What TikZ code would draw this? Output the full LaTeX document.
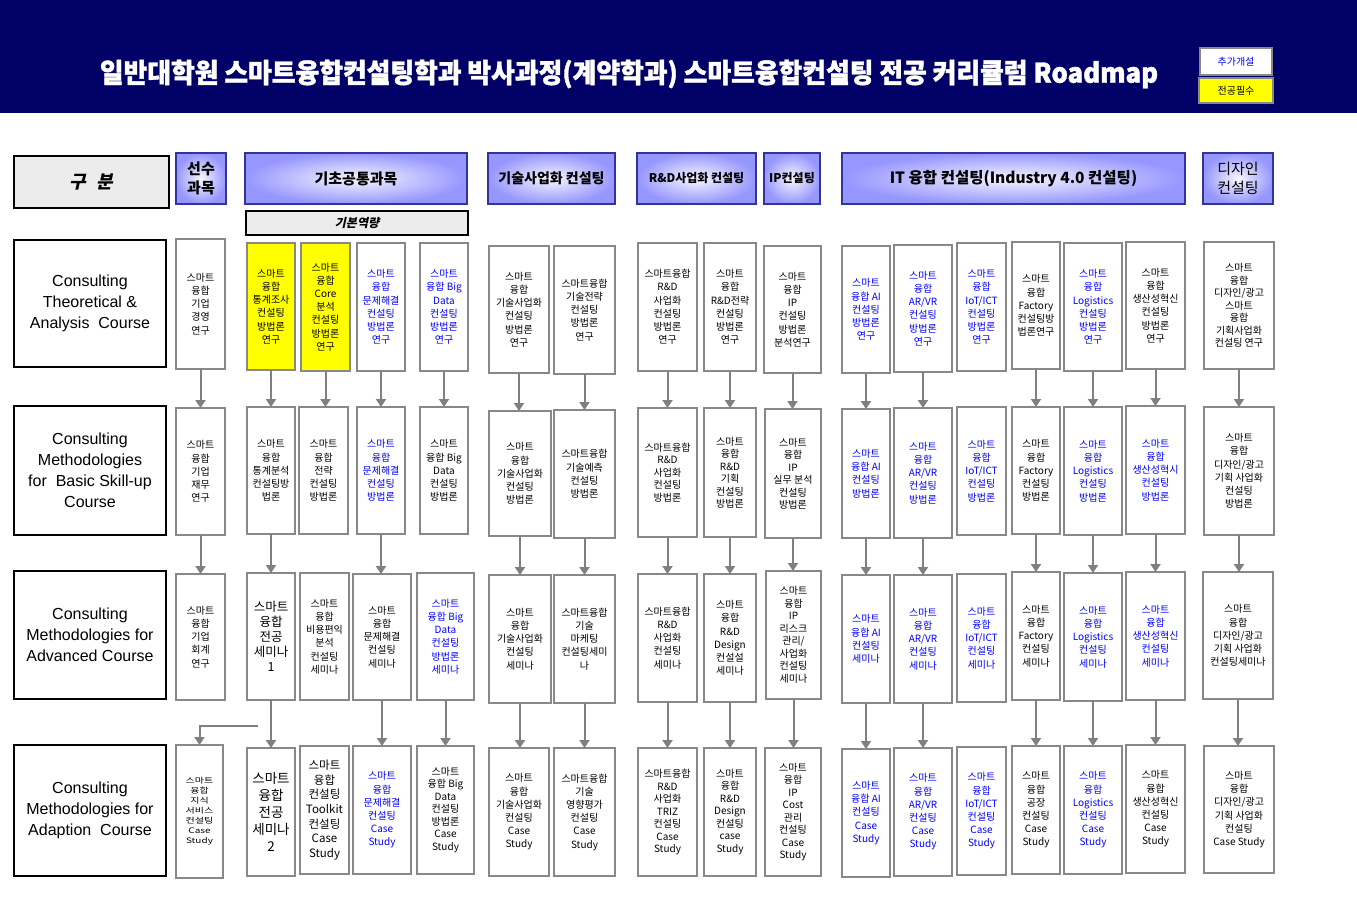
\documentclass[tikz,border=0pt]{standalone}
\usepackage{fontspec}
\usepackage{graphicx}
\setmainfont{Noto Sans CJK KR}
\newfontfamily\lat{Liberation Sans}
\newfontfamily\slantf[FakeSlant=0.22]{Noto Sans CJK KR}
\newfontfamily\titlef[FakeBold=1.4]{Noto Sans CJK KR}
\usetikzlibrary{arrows.meta}
\definecolor{navy}{RGB}{0,0,102}
\definecolor{bgray}{RGB}{136,136,136}
\definecolor{agray}{RGB}{128,128,128}
\definecolor{hdrline}{RGB}{51,51,153}
\definecolor{hdrout}{RGB}{150,150,255}
\definecolor{hdrin}{RGB}{246,246,255}
\definecolor{lgray}{RGB}{236,236,236}
\definecolor{tblue}{RGB}{0,0,255}
\definecolor{yel}{RGB}{255,255,0}
\newcommand\cb[7]{\node[cbox,#6,minimum width={#4-#2},minimum height={#5-#3}] (#1) at ({(#2+#4)/2},{(#3+#5)/2}) {#7};}
\tikzset{
  cbox/.style={draw=bgray, line width=1.1pt, fill=white, align=center, inner sep=0pt, outer sep=0pt, text=black, font=\fontsize{10}{13.2}\selectfont},
  bl/.style={text=tblue},
  yl/.style={fill=yel},
  tight/.style={font=\fontsize{10}{12.5}\selectfont},
  big/.style={font=\fontsize{12.5}{15}\selectfont},
  bigger/.style={font=\fontsize{13.5}{17}\selectfont},
  mid/.style={font=\fontsize{11.5}{14.6}\selectfont},
  plain/.style={},
  hdr/.style={draw=hdrline, line width=1.2pt, inner color=hdrin, outer color=hdrout, align=center, inner sep=0pt, text=black, font=\bfseries\fontsize{15}{19}\selectfont},
  gbox/.style={draw=black, line width=1.3pt, fill=lgray, align=center, inner sep=0pt, font=\slantf\bfseries\fontsize{18}{20}\selectfont},
  lbox/.style={draw=black, line width=1.3pt, fill=white, align=center, inner sep=0pt, font=\lat\fontsize{16}{21}\selectfont},
  arr/.style={draw=agray, line width=2pt, -{Triangle[width=10pt,length=8pt]}},
}
\begin{document}
\begin{tikzpicture}[x=1pt,y=-1pt]
\useasboundingbox (0,0) rectangle (1357,920);
\fill[white] (0,0) rectangle (1357,920);
% banner
\fill[navy] (0,0) rectangle (1357,113);
\node[text=white, inner sep=0pt] (title) at (629,74) {\resizebox{1058pt}{23pt}{\titlef\bfseries 일반대학원 스마트융합컨설팅학과 박사과정(계약학과) 스마트융합컨설팅 전공 커리큘럼 Roadmap}};
\cb{leg1}{1200}{48}{1272}{75}{text=tblue, font=\fontsize{10}{12}\selectfont}{추가개설}
\cb{leg2}{1199}{78}{1273}{103}{yl, font=\fontsize{10}{12}\selectfont}{전공필수}
% headers
\node[gbox, minimum width=155, minimum height=52] (gubun) at (91.5,182) {구\hspace{10pt}분};
\node[hdr, minimum width=50, minimum height=51] (hs) at (201,178.5) {선수\\과목};
\node[hdr, minimum width=222, minimum height=51] (hb) at (356,178.5) {기초공통과목};
\node[gbox, minimum width=222, minimum height=24, font=\slantf\bfseries\fontsize{12}{14}\selectfont] (hbasic) at (357,223) {기본역량};
\node[hdr, minimum width=127, minimum height=51, font=\bfseries\fontsize{14}{17}\selectfont] (hf) at (551.5,178.5) {기술사업화 컨설팅};
\node[hdr, minimum width=119, minimum height=51, font=\bfseries\fontsize{12}{15}\selectfont] (hh) at (696.5,178.5) {R\&D사업화 컨설팅};
\node[hdr, minimum width=56, minimum height=51, font=\bfseries\fontsize{12}{15}\selectfont] (hj) at (792,178.5) {IP컨설팅};
\node[hdr, minimum width=343, minimum height=51, font=\bfseries\fontsize{15.5}{19}\selectfont] (hk) at (1013.5,178.5) {IT 융합 컨설팅(Industry 4.0 컨설팅)};
\node[hdr, minimum width=70, minimum height=51, font=\fontsize{15}{19}\selectfont] (hq) at (1238,178.5) {디자인\\컨설팅};
% row labels
\cb{r1}{14}{240}{166}{367}{lbox}{Consulting\\Theoretical \&\\Analysis\ \ Course}
\cb{r2}{14}{406}{166}{535}{lbox}{Consulting\\Methodologies\\for\ \ Basic Skill-up\\Course}
\cb{r3}{14}{571}{166}{699}{lbox}{Consulting\\Methodologies for\\Advanced Course}
\cb{r4}{14}{745}{166}{876}{lbox}{Consulting\\Methodologies for\\Adaption\ \ Course}
% row 1
\cb{s1}{176}{239}{225}{369}{plain}{스마트\\융합\\기업\\경영\\연구}
\cb{b1}{247}{243}{295}{370}{yl}{스마트\\융합\\통계조사\\컨설팅\\방법론\\연구}
\cb{c1}{301}{243}{350}{371}{yl}{스마트\\융합\\Core\\분석\\컨설팅\\방법론\\연구}
\cb{d1}{357}{243}{405}{371}{bl}{스마트\\융합\\문제해결\\컨설팅\\방법론\\연구}
\cb{e1}{420}{243}{468}{371}{bl}{스마트\\융합 Big\\Data\\컨설팅\\방법론\\연구}
\cb{f1}{489}{246}{549}{373}{plain}{스마트\\융합\\기술사업화\\컨설팅\\방법론\\연구}
\cb{g1}{554}{246}{615}{374}{plain}{스마트융합\\기술전략\\컨설팅\\방법론\\연구}
\cb{h1}{638}{243}{697}{371}{plain}{스마트융합\\R\&D\\사업화\\컨설팅\\방법론\\연구}
\cb{i1}{704}{243}{756}{371}{plain}{스마트\\융합\\R\&D전략\\컨설팅\\방법론\\연구}
\cb{j1}{764}{246}{821}{373}{plain}{스마트\\융합\\IP\\컨설팅\\방법론\\분석연구}
\cb{k1}{842}{246}{890}{373}{bl}{스마트\\융합 AI\\컨설팅\\방법론\\연구}
\cb{l1}{894}{245}{952}{372}{bl}{스마트\\융합\\AR/VR\\컨설팅\\방법론\\연구}
\cb{m1}{957}{243}{1006}{371}{bl}{스마트\\융합\\IoT/ICT\\컨설팅\\방법론\\연구}
\cb{n1}{1012}{242}{1060}{369}{plain}{스마트\\융합\\Factory\\컨설팅방\\법론연구}
\cb{o1}{1064}{243}{1122}{371}{bl}{스마트\\융합\\Logistics\\컨설팅\\방법론\\연구}
\cb{p1}{1126}{242}{1185}{369}{plain}{스마트\\융합\\생산성혁신\\컨설팅\\방법론\\연구}
\cb{q1}{1204}{242}{1274}{369}{tight}{스마트\\융합\\디자인/광고\\스마트\\융합\\기획사업화\\컨설팅 연구}
% row 2
\cb{s2}{176}{408}{225}{535}{plain}{스마트\\융합\\기업\\재무\\연구}
\cb{b2}{247}{407}{295}{534}{plain}{스마트\\융합\\통계분석\\컨설팅방\\법론}
\cb{c2}{299}{407}{348}{534}{plain}{스마트\\융합\\전략\\컨설팅\\방법론}
\cb{d2}{357}{407}{405}{534}{bl}{스마트\\융합\\문제해결\\컨설팅\\방법론}
\cb{e2}{420}{407}{468}{534}{plain}{스마트\\융합 Big\\Data\\컨설팅\\방법론}
\cb{f2}{489}{411}{551}{536}{plain}{스마트\\융합\\기술사업화\\컨설팅\\방법론}
\cb{g2}{554}{410}{615}{538}{plain}{스마트융합\\기술예측\\컨설팅\\방법론}
\cb{h2}{638}{408}{697}{537}{tight}{스마트융합\\R\&D\\사업화\\컨설팅\\방법론}
\cb{i2}{704}{408}{756}{537}{tight}{스마트\\융합\\R\&D\\기획\\컨설팅\\방법론}
\cb{j2}{765}{409}{821}{538}{tight}{스마트\\융합\\IP\\실무 분석\\컨설팅\\방법론}
\cb{k2}{842}{409}{890}{538}{bl}{스마트\\융합 AI\\컨설팅\\방법론}
\cb{l2}{894}{408}{952}{538}{bl}{스마트\\융합\\AR/VR\\컨설팅\\방법론}
\cb{m2}{957}{407}{1006}{535}{bl}{스마트\\융합\\IoT/ICT\\컨설팅\\방법론}
\cb{n2}{1012}{407}{1060}{534}{plain}{스마트\\융합\\Factory\\컨설팅\\방법론}
\cb{o2}{1064}{407}{1122}{535}{bl}{스마트\\융합\\Logistics\\컨설팅\\방법론}
\cb{p2}{1126}{406}{1185}{534}{bl}{스마트\\융합\\생산성혁시\\컨설팅\\방법론}
\cb{q2}{1204}{407}{1274}{535}{plain}{스마트\\융합\\디자인/광고\\기획 사업화\\컨설팅\\방법론}
% row 3
\cb{s3}{176}{574}{225}{700}{plain}{스마트\\융합\\기업\\회계\\연구}
\cb{b3}{247}{573}{295}{700}{big}{스마트\\융합\\전공\\세미나\\1}
\cb{c3}{300}{573}{349}{700}{plain}{스마트\\융합\\비용편익\\분석\\컨설팅\\세미나}
\cb{d3}{353}{574}{411}{700}{plain}{스마트\\융합\\문제해결\\컨설팅\\세미나}
\cb{e3}{417}{573}{474}{700}{bl}{스마트\\융합 Big\\Data\\컨설팅\\방법론\\세미나}
\cb{f3}{489}{575}{551}{703}{plain}{스마트\\융합\\기술사업화\\컨설팅\\세미나}
\cb{g3}{554}{575}{615}{703}{plain}{스마트융합\\기술\\마케팅\\컨설팅세미\\나}
\cb{h3}{638}{574}{697}{702}{plain}{스마트융합\\R\&D\\사업화\\컨설팅\\세미나}
\cb{i3}{704}{574}{756}{702}{plain}{스마트\\융합\\R\&D\\Design\\컨설설\\세미나}
\cb{j3}{766}{571}{821}{699}{tight}{스마트\\융합\\IP\\리스크\\관리/\\사업화\\컨설팅\\세미나}
\cb{k3}{842}{575}{890}{703}{bl}{스마트\\융합 AI\\컨설팅\\세미나}
\cb{l3}{894}{575}{952}{703}{bl}{스마트\\융합\\AR/VR\\컨설팅\\세미나}
\cb{m3}{957}{574}{1006}{702}{bl}{스마트\\융합\\IoT/ICT\\컨설팅\\세미나}
\cb{n3}{1012}{572}{1060}{700}{plain}{스마트\\융합\\Factory\\컨설팅\\세미나}
\cb{o3}{1064}{573}{1122}{701}{bl}{스마트\\융합\\Logistics\\컨설팅\\세미나}
\cb{p3}{1126}{572}{1185}{700}{bl}{스마트\\융합\\생산성혁신\\컨설팅\\세미나}
\cb{q3}{1203}{572}{1273}{699}{plain}{스마트\\융합\\디자인/광고\\기획 사업화\\컨설팅세미나}
% row 4
\cb{s4}{176}{745}{223}{878}{plain}{\scalebox{1}[0.76]{\begin{tabular}{@{}c@{}}스마트\\융합\\지식\\서비스\\컨설팅\\Case\\Study\end{tabular}}}
\cb{b4}{247}{748}{295}{876}{bigger}{스마트\\융합\\전공\\세미나\\2}
\cb{c4}{300}{746}{349}{874}{mid}{스마트\\융합\\컨설팅\\Toolkit\\컨설팅\\Case\\Study}
\cb{d4}{353}{746}{411}{874}{bl}{스마트\\융합\\문제해결\\컨설팅\\Case\\Study}
\cb{e4}{417}{746}{474}{874}{tight}{스마트\\융합 Big\\Data\\컨설팅\\방법론\\Case\\Study}
\cb{f4}{489}{748}{549}{876}{plain}{스마트\\융합\\기술사업화\\컨설팅\\Case\\Study}
\cb{g4}{554}{748}{615}{876}{plain}{스마트융합\\기술\\영향평가\\컨설팅\\Case\\Study}
\cb{h4}{638}{748}{697}{876}{tight}{스마트융합\\R\&D\\사업화\\TRIZ\\컨설팅\\Case\\Study}
\cb{i4}{704}{748}{756}{876}{tight}{스마트\\융합\\R\&D\\Design\\컨설팅\\case\\Study}
\cb{j4}{765}{748}{821}{876}{tight}{스마트\\융합\\IP\\Cost\\관리\\컨설팅\\Case\\Study}
\cb{k4}{842}{749}{890}{877}{bl}{스마트\\융합 AI\\컨설팅\\Case\\Study}
\cb{l4}{894}{748}{952}{876}{bl}{스마트\\융합\\AR/VR\\컨설팅\\Case\\Study}
\cb{m4}{957}{747}{1006}{875}{bl}{스마트\\융합\\IoT/ICT\\컨설팅\\Case\\Study}
\cb{n4}{1012}{746}{1060}{874}{plain}{스마트\\융합\\공장\\컨설팅\\Case\\Study}
\cb{o4}{1064}{746}{1122}{874}{bl}{스마트\\융합\\Logistics\\컨설팅\\Case\\Study}
\cb{p4}{1126}{745}{1185}{873}{plain}{스마트\\융합\\생산성혁신\\컨설팅\\Case\\Study}
\cb{q4}{1204}{746}{1274}{873}{plain}{스마트\\융합\\디자인/광고\\기획 사업화\\컨설팅\\Case Study}
% arrows
\foreach \c in {s,b,c,d,e,f,g,h,i,j,k,l,n,o,p,q}
  \draw[arr] (\c1.south) -- (\c1.south |- \c2.north);
\foreach \c in {s,b,d,f,g,h,i,j,k,l,n,o,p,q}
  \draw[arr] (\c2.south) -- (\c2.south |- \c3.north);
\foreach \c in {b,d,e,f,g,h,i,j,k,l,n,o,p,q}
  \draw[arr] (\c3.south) -- (\c3.south |- \c4.north);
\coordinate (lstart) at (258,726);
\draw[arr] (lstart) -| (s4.north);
\end{tikzpicture}
\end{document}
